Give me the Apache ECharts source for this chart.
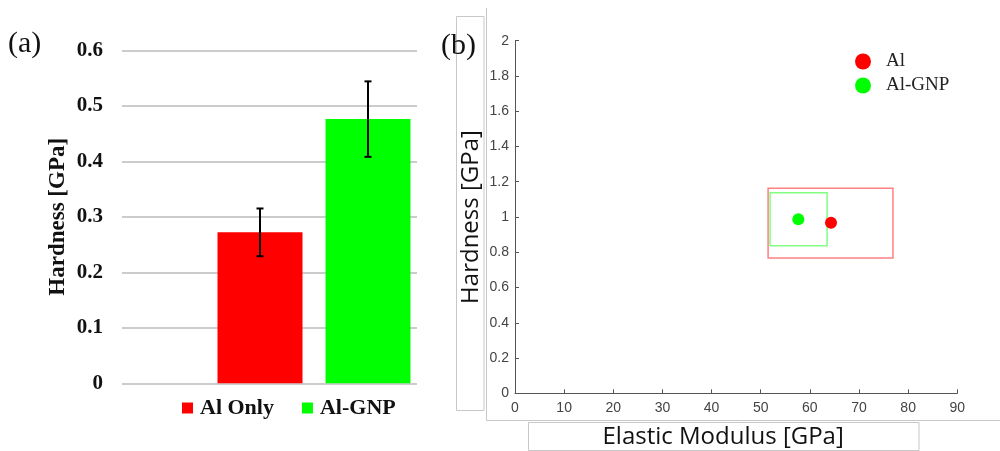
<!DOCTYPE html>
<html><head><meta charset="utf-8">
<script src="https://cdn.jsdelivr.net/npm/echarts@6/dist/echarts.min.js"></script>
<style>html,body{margin:0;padding:0;background:#fff}#c{width:1000px;height:451px}</style>
</head><body><div id="c"></div>
<script>
// ---- Panel (a): bar chart data ----
const barSeriesNames = ['Al Only', 'Al-GNP'];
const barCategory = ['Hardness'];
const hardnessMean = [0.272, 0.476];
const hardnessErr = [0.043, 0.068];
const barColors = ['#ff0000', '#00ff00'];
const yAxisA = { min: 0, max: 0.6, interval: 0.1 };

// ---- Panel (b): scatter data ----
const scatterNames = ['Al', 'Al-GNP'];
const modulusMean = [64.3, 57.65];
const hardnessMeanB = [0.968, 0.987];
const modulusRange = [[51.5, 76.9], [51.9, 63.5]];
const hardnessRange = [[0.767, 1.163], [0.837, 1.138]];
const pointColors = ['#ff0000', '#00ff00'];
const boxColors = ['#ff8080', '#80ff80'];
const xAxisB = { min: 0, max: 90, interval: 10 };
const yAxisB = { min: 0, max: 2, interval: 0.2 };

// ---- style constants ----
const BAR_W = 85, BAR_GAP = 23;
const serif = '"Liberation Serif", "Times New Roman", serif';
const sans = '"Liberation Sans", Arial, sans-serif';
const axisGray = '#555555';

const chart = echarts.init(document.getElementById('c'), null, { renderer: 'canvas' });

const series = [];
barSeriesNames.forEach((n, i) => {
  series.push({
    type: 'bar', name: n, xAxisIndex: 1, yAxisIndex: 1,
    data: [hardnessMean[i]], barWidth: BAR_W, barGap: (BAR_GAP / BAR_W * 100) + '%',
    itemStyle: { color: barColors[i] }, z: 2
  });
});
series.push({
  type: 'custom', xAxisIndex: 1, yAxisIndex: 1, z: 5,
  data: hardnessMean.map((m, i) => [0, m - hardnessErr[i], m + hardnessErr[i], i]),
  renderItem: (params, api) => {
    const idx = api.value(3);
    const lo = api.coord([api.value(0), api.value(1)]);
    const hi = api.coord([api.value(0), api.value(2)]);
    const x = lo[0] + (idx - (barSeriesNames.length - 1) / 2) * (BAR_W + BAR_GAP);
    const cap = 3.5;
    const st = { stroke: '#000', lineWidth: 2 };
    return { type: 'group', children: [
      { type: 'line', shape: { x1: x, y1: lo[1], x2: x, y2: hi[1] }, style: st },
      { type: 'line', shape: { x1: x - cap, y1: hi[1], x2: x + cap, y2: hi[1] }, style: st },
      { type: 'line', shape: { x1: x - cap, y1: lo[1], x2: x + cap, y2: lo[1] }, style: st }
    ]};
  }
});
series.push({
  type: 'custom', xAxisIndex: 2, yAxisIndex: 2, z: 2,
  data: modulusRange.map((r, i) => [r[0], r[1], hardnessRange[i][0], hardnessRange[i][1], i]),
  renderItem: (params, api) => {
    const p1 = api.coord([api.value(0), api.value(3)]);
    const p2 = api.coord([api.value(1), api.value(2)]);
    return { type: 'rect', shape: { x: p1[0], y: p1[1], width: p2[0] - p1[0], height: p2[1] - p1[1] },
      style: { fill: 'none', stroke: boxColors[api.value(4)], lineWidth: 1.5 } };
  }
});
scatterNames.forEach((n, i) => {
  series.push({
    type: 'scatter', name: n, xAxisIndex: 2, yAxisIndex: 2, z: 4,
    data: [[modulusMean[i], hardnessMeanB[i]]], symbolSize: 12,
    itemStyle: { color: pointColors[i], opacity: 1 }
  });
});

const option = {
  animation: false,
  backgroundColor: '#ffffff',
  title: [
    { text: '(a)', left: 8, top: 29, padding: 0, textStyle: { fontFamily: serif, fontSize: 30, fontWeight: 'normal', color: '#111' } },
    { text: '(b)', left: 441, top: 31, padding: 0, textStyle: { fontFamily: serif, fontSize: 30, fontWeight: 'normal', color: '#111' } }
  ],
  legend: [
    { orient: 'horizontal', left: 182, top: 397, padding: 0, icon: 'rect', itemWidth: 11, itemHeight: 11, itemGap: 28,
      data: barSeriesNames.map((n, i) => ({ name: n, itemStyle: { color: barColors[i] } })),
      selectedMode: false,
      textStyle: { fontFamily: serif, fontSize: 22, fontWeight: 'bold', color: '#111', padding: [0, 0, 0, 2] } },
    { orient: 'vertical', left: 855, top: 52, padding: 0, icon: 'circle', itemWidth: 16, itemHeight: 16, itemGap: 5,
      data: scatterNames.map((n, i) => ({ name: n, itemStyle: { color: pointColors[i] } })),
      selectedMode: false,
      textStyle: { fontFamily: serif, fontSize: 19, color: '#222', padding: [0, 0, 0, 10] } }
  ],
  grid: [
    { left: 122, top: 50.3, width: 295, height: 333, outerBoundsMode: 'none', containLabel: false },
    { left: 217, top: 50.3, width: 194, height: 333, outerBoundsMode: 'none', containLabel: false },
    { left: 515, top: 40.7, width: 442.3, height: 352.6, outerBoundsMode: 'none', containLabel: false }
  ],
  xAxis: [
    { type: 'value', gridIndex: 0, min: 0, max: 1, show: false },
    { type: 'category', gridIndex: 1, data: barCategory, show: false },
    { type: 'value', gridIndex: 2, min: xAxisB.min, max: xAxisB.max, interval: xAxisB.interval,
      axisLine: { show: true, lineStyle: { color: axisGray, width: 1 } },
      axisTick: { show: true, inside: true, length: 4, lineStyle: { color: axisGray } },
      splitLine: { show: false },
      axisLabel: { fontFamily: sans, fontSize: 14, color: '#444', margin: 8 },
      name: 'Elastic Modulus [GPa]', nameLocation: 'middle', nameGap: 32, nameMoveOverlap: false,
      nameTextStyle: { fontFamily: '"Open Sans", sans-serif', fontSize: 24, color: '#111', padding: [0, 26, 0, 0] } }
  ],
  yAxis: [
    { type: 'value', gridIndex: 0, min: yAxisA.min, max: yAxisA.max, interval: yAxisA.interval,
      axisLine: { show: false }, axisTick: { show: false },
      splitLine: { show: true, lineStyle: { color: '#cccccc', width: 2 } },
      axisLabel: { fontFamily: serif, fontSize: 21, fontWeight: 'bold', color: '#111', margin: 19 },
      name: 'Hardness [GPa]', nameLocation: 'middle', nameGap: 52, nameMoveOverlap: false,
      nameTextStyle: { fontFamily: serif, fontSize: 23, fontWeight: 'bold', color: '#111' } },
    { type: 'value', gridIndex: 1, min: yAxisA.min, max: yAxisA.max, show: false },
    { type: 'value', gridIndex: 2, min: yAxisB.min, max: yAxisB.max, interval: yAxisB.interval,
      axisLine: { show: true, lineStyle: { color: axisGray, width: 1 } },
      axisTick: { show: true, inside: true, length: 4, lineStyle: { color: axisGray } },
      splitLine: { show: false },
      axisLabel: { fontFamily: sans, fontSize: 14, color: '#444', margin: 6 },
      name: 'Hardness [GPa]', nameLocation: 'middle', nameGap: 32, nameMoveOverlap: false,
      nameTextStyle: { fontFamily: '"Open Sans", sans-serif', fontSize: 24, color: '#111' } }
  ],
  graphic: [
    { type: 'rect', shape: { x: 456.5, y: 16.5, width: 27.5, height: 394 }, style: { fill: 'none', stroke: '#c8c8c8', lineWidth: 1 }, silent: true },
    { type: 'line', shape: { x1: 486.5, y1: 8, x2: 486.5, y2: 420.5 }, style: { stroke: '#c8c8c8', lineWidth: 1 }, silent: true },
    { type: 'line', shape: { x1: 486.5, y1: 420.5, x2: 1000, y2: 420.5 }, style: { stroke: '#c8c8c8', lineWidth: 1 }, silent: true },
    { type: 'rect', shape: { x: 528.5, y: 422.5, width: 390.5, height: 28 }, style: { fill: 'none', stroke: '#c8c8c8', lineWidth: 1 }, silent: true }
  ],
  series: series
};
chart.setOption(option);
</script>
</body></html>
